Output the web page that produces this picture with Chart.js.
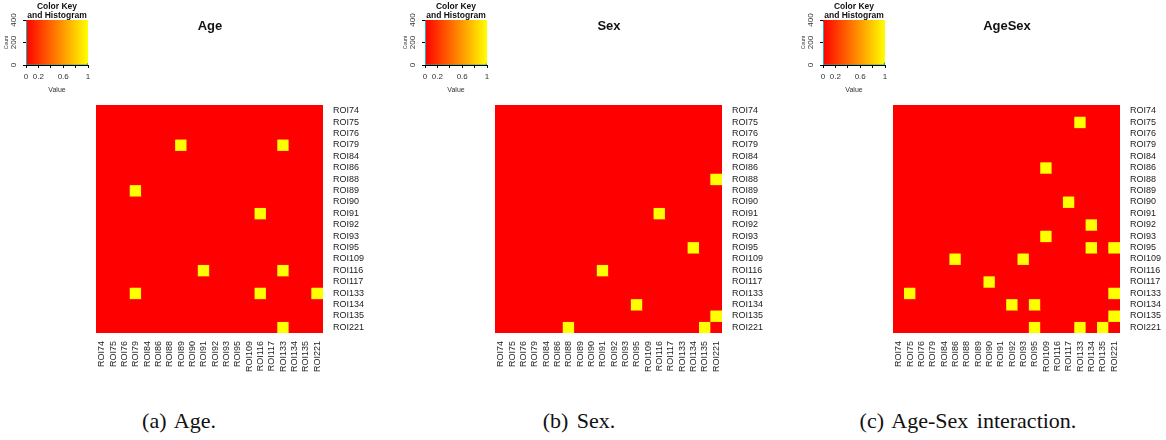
<!DOCTYPE html>
<html lang="en">
<head>
<meta charset="UTF-8">
<title>ROI heatmaps</title>
<script src="https://cdn.jsdelivr.net/npm/chart.js"></script>
<style>
  body { margin: 0; background: #fff; font-family: "Liberation Sans", Arial, sans-serif; }
  #page { position: relative; width: 1166px; height: 440px; overflow: hidden; }
  canvas { position: absolute; }
  .keytitle { position: absolute; width: 90px; text-align: center; font-weight: bold; font-size: 8.5px; line-height: 9px; color: #111; }
  .title { position: absolute; width: 200px; text-align: center; font-weight: bold; font-size: 13px; color: #111; }
  .caption { position: absolute; width: 360px; text-align: center; font-family: "Liberation Serif", serif; font-size: 22px; color: #111; word-spacing: 3px; }
</style>
</head>
<body>
<div id="page"></div>

<script>
// ROI names, same order on rows and columns
const rois = ['ROI74', 'ROI75', 'ROI76', 'ROI79', 'ROI84', 'ROI86', 'ROI88', 'ROI89', 'ROI90', 'ROI91',
              'ROI92', 'ROI93', 'ROI95', 'ROI109', 'ROI116', 'ROI117', 'ROI133', 'ROI134', 'ROI135', 'ROI221'];

// significant (value 1) pairs, upper half only - the matrices are symmetric
const agePairs = [['ROI79', 'ROI89'], ['ROI79', 'ROI133'], ['ROI91', 'ROI116'], ['ROI116', 'ROI133'], ['ROI133', 'ROI221']];
const sexPairs = [['ROI88', 'ROI221'], ['ROI91', 'ROI116'], ['ROI95', 'ROI134'], ['ROI135', 'ROI221']];
const ageSexPairs = [['ROI75', 'ROI133'], ['ROI86', 'ROI109'], ['ROI90', 'ROI117'], ['ROI92', 'ROI134'], ['ROI93', 'ROI109'],
                     ['ROI95', 'ROI134'], ['ROI95', 'ROI221'], ['ROI133', 'ROI221'], ['ROI135', 'ROI221']];

const panelTitles = ['Age', 'Sex', 'AgeSex'];
const captions = ['(a) Age.', '(b) Sex.', '(c) Age-Sex interaction.'];

// colour key axis
const keyTicks = [0, 0.2, 0.4, 0.6, 0.8, 1];
const keyTickLabels = ['0', '0.2', '', '0.6', '', '1'];
const countTicks = [0, 200, 400];

const RED = '#ff0000', YELLOW = '#ffff00', TEAL = '#22b0b0';
const panelX = [0, 399, 797];
const captionX = [179, 579, 968];

function buildMatrix(pairs) {
  const m = rois.map(() => rois.map(() => 0));
  pairs.forEach(([a, b]) => {
    const i = rois.indexOf(a), j = rois.indexOf(b);
    m[i][j] = 1; m[j][i] = 1;
  });
  return m;
}

const page = document.getElementById('page');
function addCanvas(left, top, w, h) {
  const c = document.createElement('canvas');
  c.width = w; c.height = h;
  c.style.left = left + 'px'; c.style.top = top + 'px';
  page.appendChild(c);
  return c;
}
function addDiv(cls, html, left, top) {
  const d = document.createElement('div');
  d.className = cls; d.innerHTML = html;
  d.style.left = left + 'px'; d.style.top = top + 'px';
  page.appendChild(d);
}

// fills the whole plot area before the bars, hides seams between cells
const areaFill = {
  id: 'areaFill',
  beforeDatasetsDraw(chart, args, opts) {
    const { ctx, chartArea: a } = chart;
    ctx.save();
    if (opts.gradient) {
      const g = ctx.createLinearGradient(a.left, 0, a.right, 0);
      g.addColorStop(0, RED); g.addColorStop(1, YELLOW);
      ctx.fillStyle = g;
    } else {
      ctx.fillStyle = opts.color || RED;
    }
    ctx.fillRect(a.left, a.top, a.right - a.left, a.bottom - a.top);
    ctx.restore();
  }
};

// rotated count labels on the key's y axis
const countLabels = {
  id: 'countLabels',
  afterDraw(chart) {
    const { ctx } = chart;
    const y = chart.scales.y;
    ctx.save();
    ctx.font = '8px "Liberation Sans"';
    ctx.fillStyle = '#333';
    ctx.textAlign = 'center';
    ctx.textBaseline = 'middle';
    countTicks.forEach(v => {
      ctx.save();
      ctx.translate(14, y.getPixelForValue(v));
      ctx.rotate(-Math.PI / 2);
      ctx.fillText(String(v), 0, 0);
      ctx.restore();
    });
    ctx.restore();
  }
};

function drawPanel(k, pairs) {
  const dx = panelX[k];
  const m = buildMatrix(pairs);

  // ---- heatmap ----
  const hm = addCanvas(96 + dx, 105, 227 + 50, 228 + 62);
  new Chart(hm, {
    type: 'bar',
    data: {
      labels: rois,
      datasets: rois.map((r, i) => ({
        label: r,
        data: rois.map(() => 1),
        backgroundColor: rois.map((c, j) => m[i][j] ? YELLOW : RED),
        borderWidth: 0,
        barPercentage: 1,
        categoryPercentage: 1
      }))
    },
    plugins: [areaFill],
    options: {
      responsive: false,
      animation: false,
      events: [],
      layout: { padding: 0 },
      plugins: { legend: { display: false }, tooltip: { enabled: false }, areaFill: { color: RED } },
      scales: {
        x: {
          stacked: true,
          grid: { display: false },
          border: { display: false },
          ticks: { autoSkip: false, minRotation: 90, maxRotation: 90, padding: 0, color: '#222',
                   font: { family: 'Liberation Sans', size: 9 } },
          afterFit(s) { s.height = 62; s.paddingLeft = 0; s.paddingRight = 0; }
        },
        y: {
          stacked: true,
          position: 'right',
          min: 0, max: rois.length,
          reverse: true,
          grid: { display: false },
          border: { display: false },
          afterBuildTicks(s) { s.ticks = rois.map((r, i) => ({ value: i + 0.5 })); },
          ticks: { autoSkip: false, padding: 2, color: '#222',
                   font: { family: 'Liberation Sans', size: 9 },
                   callback: (v, i) => rois[i] },
          afterFit(s) { s.width = 50; s.paddingTop = 0; s.paddingBottom = 0; }
        }
      }
    }
  });

  // ---- colour key with histogram ----
  let ones = 0;
  m.forEach(row => row.forEach(v => { ones += v; }));
  const zeros = rois.length * rois.length - ones;
  const hist = [
    { x: 0, y: 0 }, { x: 0, y: zeros }, { x: 0.01, y: zeros }, { x: 0.01, y: 0 },
    { x: 0.99, y: 0 }, { x: 0.99, y: ones }, { x: 1, y: ones }
  ];
  const key = addCanvas(dx, 0, 100, 95);
  new Chart(key, {
    type: 'scatter',
    data: { datasets: [{ data: hist, showLine: true, pointRadius: 0, borderColor: TEAL, borderWidth: 1.2 }] },
    plugins: [areaFill, countLabels],
    options: {
      responsive: false,
      animation: false,
      events: [],
      layout: { padding: { left: 0, right: 12, top: 20, bottom: 0 } },
      plugins: { legend: { display: false }, tooltip: { enabled: false }, areaFill: { gradient: true } },
      scales: {
        x: {
          type: 'linear', min: 0, max: 1,
          afterBuildTicks(s) { s.ticks = keyTicks.map(v => ({ value: v })); },
          grid: { drawOnChartArea: false, tickLength: 3, color: '#000' },
          border: { color: '#000' },
          ticks: { padding: 4, color: '#333', font: { family: 'Liberation Sans', size: 8 }, autoSkip: false, maxRotation: 0,
                   callback: (v, i) => keyTickLabels[i] },
          title: { display: true, text: 'Value', color: '#333', font: { family: 'Liberation Sans', size: 7 }, padding: { top: 0, bottom: 1 } },
          afterFit(s) { s.height = 30; s.paddingLeft = 0; s.paddingRight = 0; }
        },
        y: {
          type: 'linear', min: 0, max: 400,
          ticks: { stepSize: 100, callback: () => '', font: { size: 8 } },
          grid: { drawOnChartArea: false, tickLength: 3, color: '#000' },
          border: { color: '#000' },
          title: { display: true, text: 'Count', color: '#333', font: { family: 'Liberation Sans', size: 5 }, padding: 4 },
          afterFit(s) { s.width = 26; s.paddingTop = 0; s.paddingBottom = 0; }
        }
      }
    }
  });

  addDiv('keytitle', 'Color Key<br>and Histogram', 12 + dx, 2);
  addDiv('title', panelTitles[k], 110 + dx, 18);
  addDiv('caption', captions[k], captionX[k] - 180, 408);
}

drawPanel(0, agePairs);
drawPanel(1, sexPairs);
drawPanel(2, ageSexPairs);
</script>
</body>
</html>
